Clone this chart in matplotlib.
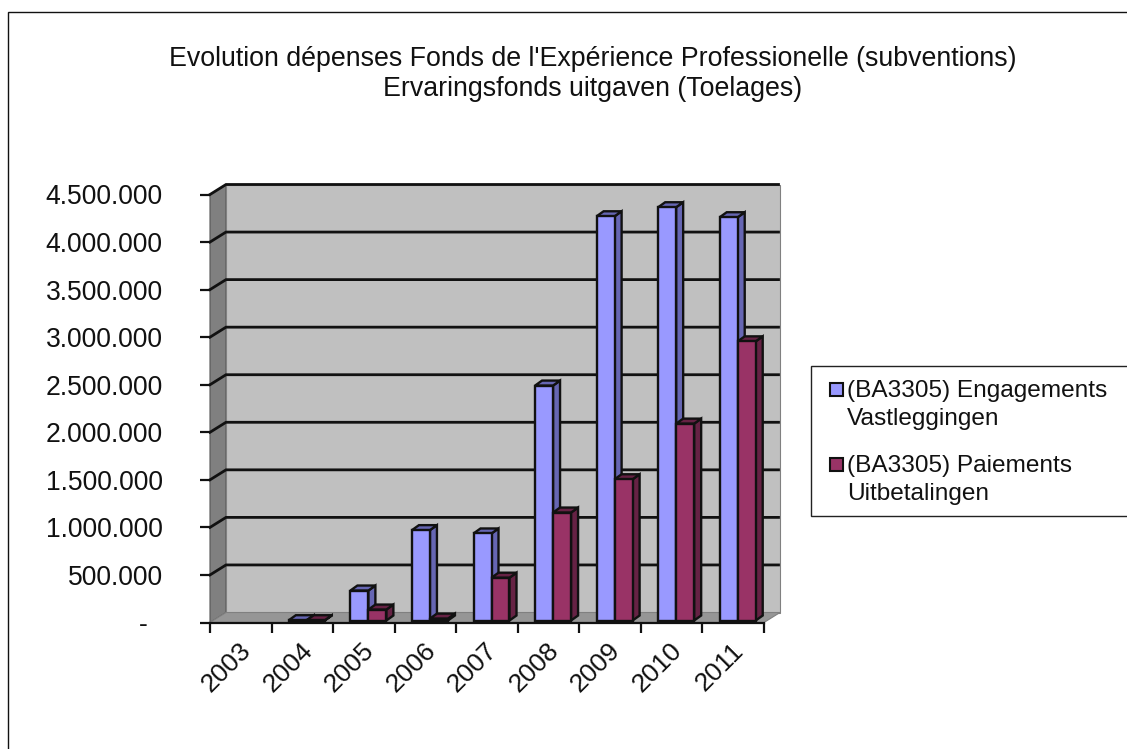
import matplotlib
matplotlib.use("Agg")
import matplotlib.pyplot as plt
from matplotlib.patches import Polygon, Rectangle
from matplotlib.ticker import FuncFormatter
from matplotlib.transforms import ScaledTranslation

years = ["2003", "2004", "2005", "2006", "2007", "2008", "2009", "2010", "2011"]
engagements = [0, 3000, 315000, 950000, 915000, 2470000, 4250000, 4345000, 4240000]
paiements = [0, 3000, 115000, 20000, 450000, 1135000, 1485000, 2070000, 2935000]
y_ticks = [0, 500000, 1000000, 1500000, 2000000, 2500000, 3000000, 3500000, 4000000, 4500000]
title_lines = ["Evolution dépenses Fonds de l'Expérience Professionelle (subventions)",
               "Ervaringsfonds uitgaven (Toelages)"]
legend_labels = ["(BA3305) Engagements\nVastleggingen", "(BA3305) Paiements\nUitbetalingen"]

W, H = 1127, 749
plt.rcParams["font.family"] = ["Liberation Sans", "DejaVu Sans"]
fig = plt.figure(figsize=(W / 100, H / 100), dpi=100, facecolor="white")

# overall frame of the chart area
fig.add_artist(Rectangle((8 / W, -0.01), 1.1, 1 - 12 / H + 0.01, transform=fig.transFigure,
                         fill=False, ec="#111111", lw=1.0))

L, R, T, B = 210, 764, 194.5, 622.5
ax = fig.add_axes([L / W, 1 - B / H, (R - L) / W, (B - T) / H])
ax.set_xlim(0, len(years))
ax.set_ylim(0, 4500000)
ax.patch.set_visible(False)
for s in ("top", "right", "left"):
    ax.spines[s].set_visible(False)
ax.spines["bottom"].set_linewidth(1.6)
ax.spines["bottom"].set_color("#111111")

px_x = len(years) / (R - L)
px_y = 4500000 / (B - T)
DX, DY = 16 * px_x, 10 * px_y


def poly(pts, fc, z, ec="#111111", lw=1.7):
    ax.add_patch(Polygon(pts, closed=True, fc=fc, ec=ec, lw=lw, zorder=z, clip_on=False,
                         joinstyle="miter"))


n = len(years)
ymax = 4500000
# walls and floor
poly([(0, 0), (DX, DY), (DX, ymax + DY), (0, ymax)], "#808080", 1, ec="#555555", lw=0.8)
poly([(DX, DY), (n + DX, DY), (n + DX, ymax + DY), (DX, ymax + DY)], "#C0C0C0", 1, ec="#808080", lw=0.8)
poly([(0, 0), (n, 0), (n + DX, DY), (DX, DY)], "#969696", 1.5, ec="#808080", lw=0.8)
# grid lines: slanted on the left wall and straight on the back wall
for v in y_ticks:
    if v:
        ax.plot([0, DX, n + DX - 1.5 * px_x], [v, v + DY, v + DY], color="#111111", lw=2.0, zorder=2,
                clip_on=False, solid_joinstyle="miter")


def bar3d(x0, w, h, front, side, z):
    bx = 4.5 * px_x
    by = 2 * px_y
    ddx, ddy = 7 * px_x, 5 * px_y
    x0 = x0 + bx
    x1 = x0 + w
    poly([(x1, by), (x1 + ddx, by + ddy), (x1 + ddx, by + ddy + h), (x1, by + h)], side, z)
    poly([(x0, by + h), (x1, by + h), (x1 + ddx, by + h + ddy), (x0 + ddx, by + h + ddy)], side, z)
    poly([(x0, by), (x1, by), (x1, by + h), (x0, by + h)], front, z + 0.01)


bw = 18 * px_x
for i in range(n):
    c = i + 0.5
    if engagements[i] > 0:
        bar3d(c - bw, bw, engagements[i], "#9999FF", "#6666B3", 3 + i * 0.1)
    if paiements[i] > 0:
        bar3d(c, bw, paiements[i], "#993366", "#662244", 3.05 + i * 0.1)

ax.set_yticks(y_ticks)
ax.yaxis.set_major_formatter(FuncFormatter(lambda v, _: "-  " if v == 0 else f"{int(v):,}".replace(",", ".")))
ax.tick_params(axis="y", length=7, width=1.6, color="#111111", labelsize=19.1, pad=27, labelcolor="#111111")
ax.set_xticks(range(n + 1))
ax.set_xticklabels([])
ax.set_xticks([i + 0.5 for i in range(n)], minor=True)
ax.set_xticklabels(years, minor=True, rotation=45, ha="right", va="top",
                   rotation_mode="anchor", fontsize=19, color="#111111")
ax.tick_params(axis="x", which="major", length=7, width=1.6, color="#111111")
ax.tick_params(axis="x", which="minor", length=0, pad=11.5)
shift = ScaledTranslation(-2 / 100, 0, fig.dpi_scale_trans)
for lab in ax.get_xticklabels(minor=True):
    lab.set_transform(lab.get_transform() + shift)

for line, y in zip(title_lines, (59, 89)):
    fig.text(593 / W, 1 - y / H, line, ha="center", va="center", fontsize=19.3, color="#111111")

# legend
fig.add_artist(Rectangle((811 / W, 1 - 516 / H), 330 / W, 150 / H, transform=fig.transFigure,
                         fc="white", ec="#222222", lw=1.0))
for label, y, col in zip(legend_labels, (389, 464), ("#9999FF", "#993366")):
    fig.add_artist(Rectangle((830 / W, 1 - (y + 6.5) / H), 13 / W, 13 / H, transform=fig.transFigure,
                             fc=col, ec="#111111", lw=1.5))
    a, b = label.split("\n")
    fig.text(847 / W, 1 - (y + 2) / H, a, ha="left", va="center", fontsize=17.6, color="#111111")
    fig.text(847 / W, 1 - (y + 30) / H, b, ha="left", va="center", fontsize=17.6, color="#111111")

fig.savefig("out.png", dpi=100, facecolor="white")
